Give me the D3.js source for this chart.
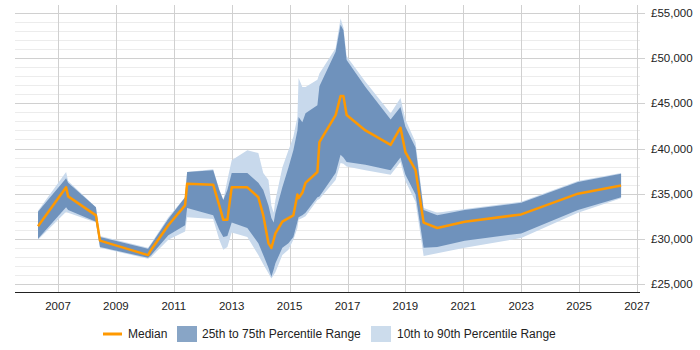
<!DOCTYPE html>
<html lang="en">
<head>
    <meta charset="UTF-8">
    <title>Salary percentile chart</title>
    <script src="https://d3js.org/d3.v7.min.js"></script>
    <style>
        body {
            margin: 0;
            background-color: #fff;
            font-family: "Liberation Sans", Arial, sans-serif;
        }
        .grid-major {
            stroke: #d0d0d0;
            stroke-width: 1px;
        }
        .grid-minor {
            stroke: #ececec;
            stroke-width: 1px;
        }
        .tick-label {
            font-size: 11.5px;
            fill: #222;
        }
        .legend-text {
            font-size: 12px;
            fill: #222;
        }
    </style>
</head>
<body>
    <div id="chart"></div>

    <script>
        // sample dates (decimal years) and salary percentiles
        const years = [2006.31, 2007.28, 2007.35, 2008.31, 2008.45, 2010.11, 2010.22, 2010.81, 2011.39, 2011.46,
            2012.36, 2012.57, 2012.71, 2012.85, 2013.0, 2013.54, 2013.92, 2014.09, 2014.27, 2014.37,
            2014.45, 2014.51, 2014.75, 2014.96, 2015.13, 2015.27, 2015.31, 2015.44, 2015.55, 2015.96,
            2016.03, 2016.59, 2016.76, 2016.86, 2016.97, 2017.62, 2018.49, 2018.83, 2019.0, 2019.35,
            2019.63, 2020.1, 2021.05, 2023.0, 2024.96, 2026.45];
        const median = [31400, 35700, 34700, 32600, 29800, 28200, 28800, 31500, 33700, 36100,
            36000, 33700, 32100, 32100, 35700, 35700, 34600, 32600, 29500, 29000,
            29900, 30600, 31900, 32300, 32600, 34900, 34500, 35100, 36200, 37400,
            40700, 43700, 45800, 45800, 43700, 42000, 40400, 42300, 39600, 37600,
            31800, 31200, 31900, 32700, 35000, 35900];
        const p25 = [30000, 33500, 33200, 31900, 29100, 27900, 28200, 30400, 31500, 33400,
            32600, 31000, 30200, 30300, 31800, 31200, 29500, 28200, 26800, 25800,
            26600, 27300, 29000, 29500, 30200, 31900, 32400, 32600, 32900, 34600,
            34700, 37300, 39300, 39000, 38500, 38200, 37600, 39000, 37100, 34900,
            29000, 29100, 29800, 30600, 33200, 34600];
        const p75 = [33000, 36700, 36200, 33500, 30200, 28900, 29400, 32200, 34600, 37400,
            37600, 35400, 34300, 35400, 37300, 37300, 36200, 35400, 33700, 32300,
            31800, 32900, 35700, 37900, 39800, 42000, 43500, 42900, 43900, 44800,
            46900, 50700, 53700, 53100, 49800, 46800, 43200, 44600, 42400, 40100,
            33200, 32600, 33200, 34000, 36300, 37200];
        const p10 = [29900, 33000, 32900, 31800, 29000, 27800, 28000, 29900, 30800, 32400,
            32200, 29900, 28800, 29100, 30700, 30200, 28200, 27200, 26200, 25600,
            26000, 26300, 28200, 28800, 29900, 31200, 32100, 32300, 32500, 34300,
            34400, 36500, 38400, 38300, 38000, 37600, 37100, 38500, 36400, 34100,
            28100, 28400, 29000, 30100, 32900, 34500];
        const p90 = [33100, 37400, 36400, 33500, 30300, 29000, 29500, 32400, 34600, 37400,
            37700, 35500, 34300, 36500, 38700, 39800, 39500, 37300, 36500, 33700,
            32900, 34300, 37900, 39800, 41300, 43500, 47800, 46800, 46800, 47600,
            48300, 51100, 54400, 53400, 50200, 47400, 43900, 45600, 43200, 40700,
            33400, 32900, 33300, 34100, 36400, 37300];

        const xTicks = [2007, 2009, 2011, 2013, 2015, 2017, 2019, 2021, 2023, 2025, 2027];
        const yTicks = [25000, 30000, 35000, 40000, 45000, 50000, 55000];

        const width = 700, height = 350;
        const plotLeft = 15, plotRight = 640, plotTop = 5, plotBottom = 292;

        const svg = d3.select("#chart")
            .append("svg")
            .attr("width", width)
            .attr("height", height);

        const x = d3.scaleLinear().domain([2007, 2027]).range([58, 637]);
        const y = d3.scaleLinear().domain([25000, 55000]).range([284, 13]);

        const rows = years.map((yr, i) => ({
            yr: yr, p10: p10[i], p25: p25[i], p50: median[i], p75: p75[i], p90: p90[i]
        }));

        // minor horizontal grid every 1,000
        const minor = d3.range(25000, 56000, 1000).filter(v => v % 5000 !== 0);
        svg.append("g")
            .selectAll("line")
            .data(minor)
            .enter().append("line")
            .attr("class", "grid-minor")
            .attr("x1", plotLeft).attr("x2", plotRight)
            .attr("y1", d => Math.round(y(d)) + 0.5)
            .attr("y2", d => Math.round(y(d)) + 0.5);

        svg.append("g")
            .selectAll("line")
            .data(yTicks)
            .enter().append("line")
            .attr("class", "grid-major")
            .attr("x1", plotLeft).attr("x2", plotRight + 5)
            .attr("y1", d => Math.round(y(d)) + 0.5)
            .attr("y2", d => Math.round(y(d)) + 0.5);

        svg.append("g")
            .selectAll("line")
            .data(xTicks)
            .enter().append("line")
            .attr("class", "grid-major")
            .attr("x1", d => Math.round(x(d)) + 0.5)
            .attr("x2", d => Math.round(x(d)) + 0.5)
            .attr("y1", plotTop).attr("y2", plotBottom);

        const band = (lo, hi) => d3.area()
            .x(d => x(d.yr))
            .y0(d => y(d[lo]))
            .y1(d => y(d[hi]));

        svg.append("path")
            .datum(rows)
            .attr("fill", "#c8d9ec")
            .attr("d", band("p10", "p90"));

        svg.append("path")
            .datum(rows)
            .attr("fill", "#6f92bc")
            .attr("d", band("p25", "p75"));

        svg.append("path")
            .datum(rows)
            .attr("fill", "none")
            .attr("stroke", "#ff9900")
            .attr("stroke-width", 2.5)
            .attr("stroke-linejoin", "round")
            .attr("d", d3.line().x(d => x(d.yr)).y(d => y(d.p50)));

        // bottom axis line
        svg.append("line")
            .attr("x1", plotLeft).attr("x2", plotRight)
            .attr("y1", plotBottom + 0.5).attr("y2", plotBottom + 0.5)
            .attr("stroke", "#222");

        svg.append("g")
            .selectAll("text")
            .data(xTicks)
            .enter().append("text")
            .attr("class", "tick-label")
            .attr("x", d => x(d))
            .attr("y", 310)
            .attr("text-anchor", "middle")
            .text(d => d);

        const fmt = d3.format(",");
        svg.append("g")
            .selectAll("text")
            .data(yTicks)
            .enter().append("text")
            .attr("class", "tick-label")
            .attr("x", 651)
            .attr("y", d => y(d) + 4)
            .text(d => "£" + fmt(d));

        // legend
        const legend = svg.append("g");
        legend.append("line")
            .attr("x1", 103).attr("x2", 122)
            .attr("y1", 334).attr("y2", 334)
            .attr("stroke", "#ff9900").attr("stroke-width", 3);
        legend.append("text").attr("class", "legend-text")
            .attr("x", 128).attr("y", 338).text("Median");
        legend.append("rect")
            .attr("x", 177).attr("y", 326).attr("width", 20).attr("height", 16)
            .attr("fill", "#88a5c6");
        legend.append("text").attr("class", "legend-text")
            .attr("x", 202).attr("y", 338).text("25th to 75th Percentile Range");
        legend.append("rect")
            .attr("x", 371).attr("y", 326).attr("width", 20).attr("height", 16)
            .attr("fill", "#ccdcec");
        legend.append("text").attr("class", "legend-text")
            .attr("x", 397).attr("y", 338).text("10th to 90th Percentile Range");
    </script>
</body>
</html>
